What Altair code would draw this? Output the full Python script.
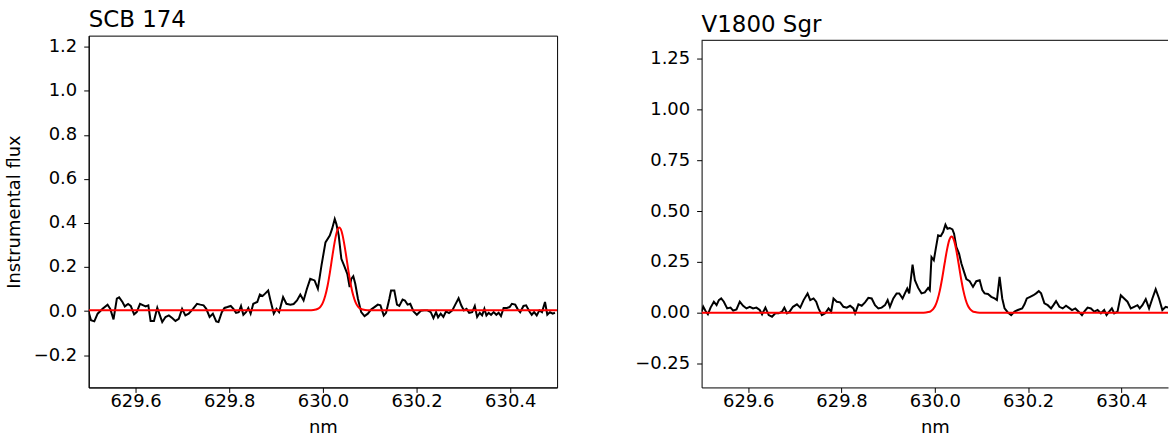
import altair as alt
import pandas as pd

FONT = "DejaVu Sans"

# ---------------- SCB 174 (left panel) ----------------
scb_nm = [629.5000, 629.5049, 629.5120, 629.5191, 629.5297, 629.5403, 629.5460, 629.5530, 629.5601, 629.5650,
          629.5721, 629.5771, 629.5841, 629.5898, 629.5969, 629.6025, 629.6096, 629.6167, 629.6216, 629.6273,
          629.6322, 629.6393, 629.6464, 629.6520, 629.6570, 629.6640, 629.6711, 629.6782, 629.6852, 629.6923,
          629.6994, 629.7064, 629.7135, 629.7227, 629.7312, 629.7383, 629.7453, 629.7510, 629.7581, 629.7651,
          629.7722, 629.7771, 629.7842, 629.7899, 629.7962, 629.8033, 629.8090, 629.8146, 629.8203, 629.8252,
          629.8302, 629.8358, 629.8408, 629.8457, 629.8514, 629.8599, 629.8655, 629.8712, 629.8761, 629.8832,
          629.8881, 629.8952, 629.9009, 629.9065, 629.9150, 629.9221, 629.9306, 629.9376, 629.9447, 629.9518,
          629.9588, 629.9659, 629.9730, 629.9822, 629.9893, 629.9970, 630.0055, 630.0147, 630.0196, 630.0253,
          630.0288, 630.0338, 630.0394, 630.0451, 630.0521, 630.0571, 630.0606, 630.0649, 630.0691, 630.0748,
          630.0818, 630.0889, 630.0960, 630.1030, 630.1101, 630.1172, 630.1228, 630.1299, 630.1349, 630.1419,
          630.1455, 630.1525, 630.1582, 630.1631, 630.1702, 630.1751, 630.1808, 630.1865, 630.1935, 630.2006,
          630.2091, 630.2162, 630.2232, 630.2303, 630.2360, 630.2416, 630.2459, 630.2515, 630.2572, 630.2628,
          630.2692, 630.2763, 630.2826, 630.2897, 630.2953, 630.3010, 630.3067, 630.3123, 630.3187, 630.3243,
          630.3293, 630.3349, 630.3399, 630.3448, 630.3491, 630.3540, 630.3590, 630.3646, 630.3703, 630.3752,
          630.3802, 630.3858, 630.3929, 630.3986, 630.4035, 630.4106, 630.4155, 630.4212, 630.4282, 630.4339,
          630.4410, 630.4459, 630.4509, 630.4565, 630.4622, 630.4678, 630.4742, 630.4791, 630.4848, 630.4905,
          630.4954]
scb_flux = [-0.005, -0.042, -0.047, -0.012, 0.010, 0.029, 0.010, -0.038, 0.056, 0.062,
            0.041, 0.021, 0.032, 0.023, -0.015, -0.005, 0.033, 0.026, 0.021, 0.026,
            -0.045, -0.045, 0.015, -0.020, -0.050, -0.027, -0.020, -0.032, -0.045, -0.035,
            0.010, -0.020, -0.012, 0.010, 0.033, 0.029, 0.026, 0.010, -0.027, -0.012,
            -0.047, -0.050, -0.005, 0.014, 0.018, 0.023, 0.010, -0.008, -0.005, 0.023,
            -0.017, -0.005, 0.014, -0.012, 0.033, 0.041, 0.075, 0.068, 0.078, 0.093,
            0.048, -0.012, 0.010, -0.005, 0.063, 0.033, 0.029, 0.032, 0.048, 0.075,
            0.048, 0.101, 0.146, 0.139, 0.101, 0.207, 0.312, 0.343, 0.373, 0.418,
            0.395, 0.343, 0.237, 0.207, 0.169, 0.109, 0.146, 0.158, 0.124, 0.056,
            -0.005, -0.023, -0.012, 0.007, 0.018, 0.029, 0.026, -0.020, -0.008, 0.056,
            0.093, 0.093, 0.029, 0.023, 0.052, 0.048, 0.029, 0.033, -0.002, -0.017,
            0.001, 0.003, 0.003, -0.005, -0.032, -0.005, -0.029, -0.012, -0.027, -0.002,
            -0.009, 0.003, 0.029, 0.058, 0.026, 0.003, 0.010, -0.008, -0.005, 0.023,
            -0.027, -0.008, -0.020, 0.010, -0.020, -0.008, -0.017, -0.005, -0.017, -0.008,
            -0.023, 0.014, 0.014, 0.018, 0.033, 0.029, 0.010, -0.005, 0.023, 0.026,
            -0.002, -0.017, -0.005, -0.020, 0.003, -0.005, 0.041, -0.017, -0.005, -0.012,
            -0.008]
scb_fit_nm = [629.500, 629.975, 629.985, 629.990, 629.995, 630.000, 630.005, 630.010, 630.015, 630.020,
              630.025, 630.030, 630.035, 630.040, 630.045, 630.050, 630.055, 630.060, 630.065, 630.070,
              630.075, 630.080, 630.085, 630.095, 630.500]
scb_fit_flux = [0.004, 0.004, 0.007, 0.011, 0.020, 0.038, 0.069, 0.115, 0.176, 0.246,
                0.312, 0.361, 0.379, 0.361, 0.312, 0.246, 0.176, 0.115, 0.069, 0.038,
                0.020, 0.011, 0.007, 0.004, 0.004]

# ---------------- V1800 Sgr (right panel) ----------------
v1800_nm = [629.5000, 629.5036, 629.5085, 629.5135, 629.5192, 629.5263, 629.5321, 629.5370, 629.5420, 629.5477,
            629.5548, 629.5620, 629.5677, 629.5748, 629.5819, 629.5890, 629.5962, 629.6033, 629.6104, 629.6175,
            629.6246, 629.6296, 629.6368, 629.6439, 629.6510, 629.6581, 629.6652, 629.6724, 629.6774, 629.6831,
            629.6887, 629.6959, 629.7044, 629.7115, 629.7187, 629.7272, 629.7329, 629.7400, 629.7457, 629.7507,
            629.7578, 629.7650, 629.7721, 629.7778, 629.7828, 629.7899, 629.7970, 629.8041, 629.8113, 629.8184,
            629.8255, 629.8291, 629.8362, 629.8433, 629.8504, 629.8575, 629.8647, 629.8718, 629.8789, 629.8860,
            629.8932, 629.8989, 629.9038, 629.9110, 629.9181, 629.9238, 629.9309, 629.9359, 629.9409, 629.9451,
            629.9523, 629.9573, 629.9644, 629.9715, 629.9786, 629.9857, 629.9893, 629.9929, 629.9979, 630.0021,
            630.0071, 630.0128, 630.0178, 630.0228, 630.0271, 630.0321, 630.0378, 630.0413, 630.0463, 630.0520,
            630.0570, 630.0627, 630.0677, 630.0748, 630.0819, 630.0890, 630.0962, 630.1019, 630.1068, 630.1140,
            630.1211, 630.1282, 630.1332, 630.1389, 630.1446, 630.1496, 630.1567, 630.1638, 630.1709, 630.1781,
            630.1873, 630.1923, 630.1973, 630.2044, 630.2115, 630.2172, 630.2229, 630.2279, 630.2350, 630.2422,
            630.2493, 630.2543, 630.2600, 630.2671, 630.2742, 630.2813, 630.2870, 630.2942, 630.3013, 630.3084,
            630.3155, 630.3205, 630.3276, 630.3348, 630.3419, 630.3490, 630.3561, 630.3632, 630.3682, 630.3739,
            630.3796, 630.3846, 630.3917, 630.3988, 630.4060, 630.4131, 630.4202, 630.4274, 630.4345, 630.4394,
            630.4451, 630.4523, 630.4594, 630.4665, 630.4736, 630.4808, 630.4879, 630.4950, 630.5000]
v1800_flux = [0.005, 0.029, 0.008, -0.008, 0.025, 0.054, 0.037, 0.062, 0.070, 0.054,
              0.021, 0.025, 0.010, 0.016, 0.054, 0.034, 0.021, 0.029, 0.021, 0.025,
              0.013, -0.008, 0.025, -0.012, -0.020, -0.003, -0.003, 0.005, 0.025, -0.003,
              0.005, 0.029, 0.041, 0.025, 0.062, 0.095, 0.062, 0.070, 0.054, 0.021,
              -0.012, -0.003, 0.021, 0.005, 0.070, 0.054, 0.051, 0.029, 0.025, 0.034,
              0.021, -0.003, 0.041, 0.034, 0.051, 0.073, 0.070, 0.037, 0.021, 0.025,
              0.037, 0.062, 0.029, 0.070, 0.095, 0.095, 0.070, 0.095, 0.119, 0.095,
              0.237, 0.160, 0.122, 0.095, 0.100, 0.122, 0.111, 0.274, 0.258, 0.315,
              0.381, 0.377, 0.397, 0.433, 0.413, 0.417, 0.410, 0.389, 0.323, 0.291,
              0.242, 0.201, 0.165, 0.155, 0.127, 0.155, 0.160, 0.111, 0.095, 0.092,
              0.078, 0.070, 0.062, 0.176, 0.070, 0.021, 0.001, -0.012, 0.005, 0.013,
              0.021, 0.041, 0.070, 0.078, 0.086, 0.095, 0.106, 0.095, 0.046, 0.037,
              0.021, 0.037, 0.057, 0.029, 0.021, 0.034, 0.025, 0.013, 0.021, 0.005,
              -0.012, 0.005, 0.025, 0.021, 0.005, 0.013, -0.003, 0.013, -0.012, 0.005,
              0.021, -0.003, 0.005, 0.086, 0.070, 0.054, 0.021, 0.029, 0.037, 0.021,
              0.037, 0.067, 0.021, 0.070, 0.116, 0.070, 0.013, 0.029, 0.025]
v1800_fit_nm = [629.500, 629.976, 629.986, 629.991, 629.996, 630.001, 630.006, 630.011, 630.016, 630.021,
                630.026, 630.031, 630.036, 630.041, 630.046, 630.051, 630.056, 630.061, 630.066, 630.071,
                630.076, 630.081, 630.086, 630.096, 630.500]
v1800_fit_flux = [0.000, 0.000, 0.003, 0.007, 0.016, 0.034, 0.065, 0.111, 0.172, 0.242,
                  0.308, 0.357, 0.375, 0.357, 0.308, 0.242, 0.172, 0.111, 0.065, 0.034,
                  0.016, 0.007, 0.003, 0.000, 0.000]

x_ticks = [629.6, 629.8, 630.0, 630.2, 630.4]
scb_y_ticks = [-0.2, 0.0, 0.2, 0.4, 0.6, 0.8, 1.0, 1.2]
v1800_y_ticks = [-0.25, 0.0, 0.25, 0.5, 0.75, 1.0, 1.25]

PANEL_H = 353


def panel(title, title_dy, nm, flux, fit_nm, fit_flux, ydomain, yticks, yfmt,
          width, yrange_top, ytitle, framed):
    obs = pd.DataFrame({"nm": nm, "flux": flux})
    fit = pd.DataFrame({"nm": fit_nm, "flux": fit_flux})
    xenc = alt.X(
        "nm:Q",
        scale=alt.Scale(domain=[629.5, 630.5], nice=False, zero=False),
        axis=alt.Axis(values=x_ticks, format=".1f", title="nm", grid=False,
                      labelPadding=0, titlePadding=8),
    )
    yaxis_kwargs = dict(values=yticks, format=yfmt, grid=False, labelPadding=7)
    if ytitle:
        yaxis_kwargs.update(title=ytitle, titlePadding=10, titleFontSize=18)
    else:
        yaxis_kwargs.update(title=None)
    yenc = alt.Y(
        "flux:Q",
        scale=alt.Scale(domain=ydomain, nice=False, zero=False,
                        range=[PANEL_H, yrange_top]),
        axis=alt.Axis(**yaxis_kwargs),
    )
    black = alt.Chart(obs).mark_line(color="black", strokeWidth=2, clip=True).encode(
        x=xenc, y=yenc)
    red = alt.Chart(fit).mark_line(color="red", strokeWidth=2, clip=True,
                                   interpolate="monotone").encode(x=xenc, y=yenc)
    layers = [black, red]
    if not framed:
        # top edge of the frame sits at the top of the y range
        top = alt.Chart(pd.DataFrame({"flux": [ydomain[1]]})).mark_rule(
            color="black", strokeWidth=1).encode(y=alt.Y("flux:Q"))
        layers.append(top)
    return alt.layer(*layers).properties(
        width=width,
        height=PANEL_H,
        view=alt.ViewBackground(stroke="black" if framed else "transparent", strokeWidth=1),
        title=alt.TitleParams(text=title, anchor="start", frame="group", fontSize=23,
                              font=FONT, fontWeight="normal", color="black", offset=4,
                              dy=title_dy),
    )


left = panel("SCB 174", 0, scb_nm, scb_flux, scb_fit_nm, scb_fit_flux,
             [-0.347, 1.251], scb_y_ticks, ".1f", 470, 0, "Instrumental flux", True)
right = panel("V1800 Sgr", 5, v1800_nm, v1800_flux, v1800_fit_nm, v1800_fit_flux,
              [-0.368, 1.341], v1800_y_ticks, ".2f", 468, 4.7, None, False)

chart = alt.hconcat(left, right, spacing=76).properties(
    padding={"left": 4, "top": 7, "right": 0, "bottom": 0},
    background="white",
).configure_axis(
    labelFont=FONT, labelFontSize=18, labelColor="black",
    titleFont=FONT, titleFontSize=18, titleFontWeight="normal", titleColor="black",
    tickColor="black", tickSize=5, tickWidth=1, domainColor="black", domainWidth=1,
)

chart.save("out.html", embed_options={"renderer": "svg", "actions": False})
